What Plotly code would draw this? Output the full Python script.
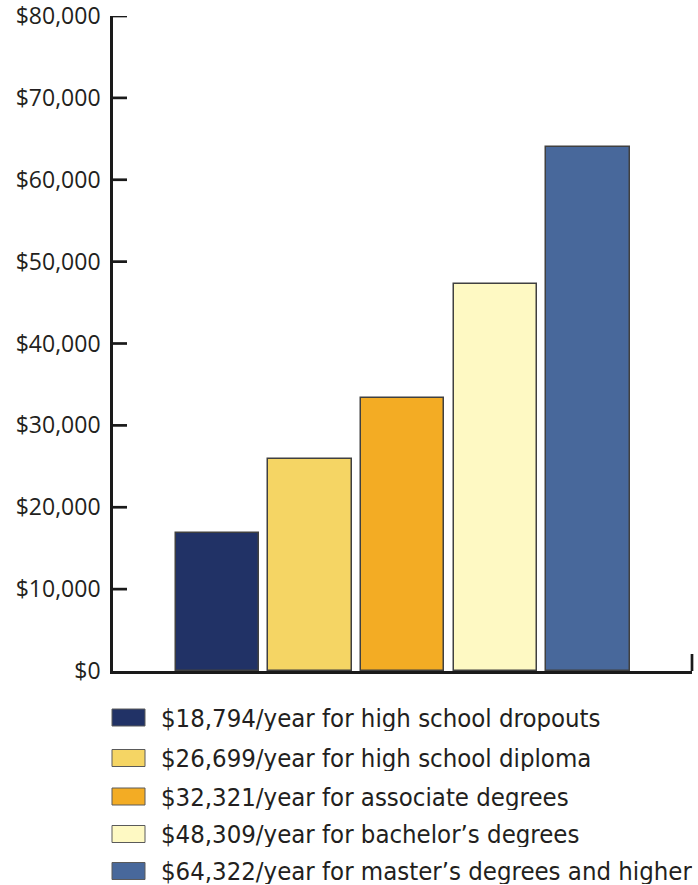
import plotly.graph_objects as go

# ---- data ----
categories = ["High school dropouts", "High school diploma", "Associate degrees",
              "Bachelor's degrees", "Master's degrees and higher"]
bar_values = [16900, 25900, 33300, 47300, 64000]
legend_labels = [
    "$18,794/year for high school dropouts",
    "$26,699/year for high school diploma",
    "$32,321/year for associate degrees",
    "$48,309/year for bachelor\u2019s degrees",
    "$64,322/year for master\u2019s degrees and higher",
]
colors = ["#213266", "#f5d564", "#f3ac24", "#fef9c3", "#48689b"]
y_tick_vals = [0, 10000, 20000, 30000, 40000, 50000, 60000, 70000, 80000]
y_tick_text = ["$0", "$10,000", "$20,000", "$30,000", "$40,000",
               "$50,000", "$60,000", "$70,000", "$80,000"]

W, H = 698, 885
ml, mr, mt, mb = 113, 6, 16, 214
pw, ph = W - ml - mr, H - mt - mb
base_y = H - mb  # pixel row of the baseline

fig = go.Figure()
fig.add_trace(go.Bar(
    x=list(range(len(categories))),
    y=bar_values,
    width=0.9,
    marker=dict(color=colors, line=dict(color="#404040", width=1.5)),
    hovertext=categories,
    showlegend=False,
))

shapes = []
annotations = []
# inward y-axis ticks at the tick values
for tv in y_tick_vals[1:]:
    shapes.append(dict(type="line", xref="paper", yref="y",
                       x0=-2 / pw, x1=14 / pw, y0=tv, y1=tv,
                       line=dict(color="#1a1a1a", width=2.7)))
# right-end tick on the baseline
shapes.append(dict(type="line", xref="paper", yref="paper", x0=1, x1=1,
                   y0=0, y1=17 / ph, line=dict(color="#1a1a1a", width=2.7)))

# custom legend (large swatches)
row_centers = [717.5, 758, 796.5, 834, 871]
for i, (lab, col) in enumerate(zip(legend_labels, colors)):
    yc = row_centers[i]
    shapes.append(dict(type="rect", xref="paper", yref="paper",
                       x0=(112 - ml) / pw, x1=(145 - ml) / pw,
                       y0=(base_y - (yc + 8.5)) / ph, y1=(base_y - (yc - 8.5)) / ph,
                       fillcolor=col, line=dict(color="#5a5a5a", width=1)))
    annotations.append(dict(xref="paper", yref="paper",
                            x=(159 - ml) / pw, y=(base_y - yc) / ph,
                            xanchor="left", yanchor="middle", showarrow=False,
                            height=26, valign="middle",
                            text=lab,
                            font=dict(family="DejaVu Sans Condensed, sans-serif",
                                      size=25.5, color="#231f20")))

fig.update_layout(
    template="none",
    width=W, height=H,
    margin=dict(l=ml, r=mr, t=mt, b=mb, pad=0),
    plot_bgcolor="white", paper_bgcolor="white",
    bargap=0,
    shapes=shapes,
    annotations=annotations,
    showlegend=False,
    xaxis=dict(range=[-1.128, 5.124], showgrid=False, zeroline=False,
               showticklabels=False, ticks="", showline=True, automargin=False,
               linecolor="#1a1a1a", linewidth=2.7, fixedrange=True),
    yaxis=dict(range=[0, 80000], tickvals=y_tick_vals, ticktext=y_tick_text,
               showgrid=False, zeroline=False, showline=True, automargin=False,
               linecolor="#1a1a1a", linewidth=2.7, ticks="",
               ticklabelstandoff=5, ticklabeloverflow="allow",
               tickfont=dict(family="Open Sans, sans-serif", size=23, color="#231f20")),
)

fig.write_html("out.html", config={"displayModeBar": False},
               post_script="document.body.style.margin='0';")
